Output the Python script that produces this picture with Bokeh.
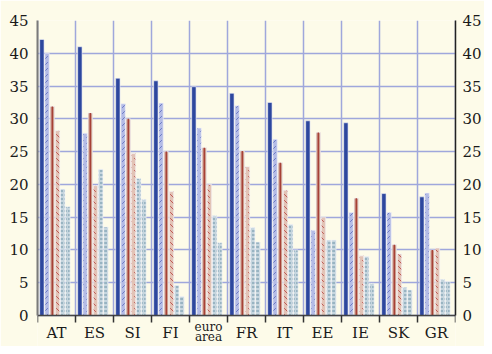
from bokeh.plotting import figure
from bokeh.models import Range1d, LinearAxis, FixedTicker, ColumnDataSource
from bokeh.embed import file_html
from bokeh.resources import INLINE

categories = ["AT", "ES", "SI", "FI", "euro area", "FR", "IT", "EE", "IE", "SK", "GR"]
series_1 = [42.1, 41.0, 36.2, 35.8, 34.9, 33.9, 32.5, 29.7, 29.4, 18.6, 18.1]
series_2 = [40.0, 27.8, 32.3, 32.4, 28.6, 32.0, 26.9, 13.0, 15.7, 15.7, 18.7]
series_3 = [31.9, 30.9, 30.0, 25.0, 25.6, 25.1, 23.3, 27.9, 17.9, 10.8, 10.0]
series_4 = [28.2, 19.8, 24.7, 18.9, 20.0, 22.7, 19.1, 15.0, 9.1, 9.4, 10.3]
series_5 = [19.3, 22.3, 20.9, 4.6, 15.2, 13.4, 13.9, 11.5, 9.0, 4.3, 5.5]
series_6 = [16.6, 13.5, 17.7, 2.9, 11.1, 11.2, 10.0, 11.5, 4.9, 3.9, 5.2]
y_ticks = [0, 5, 10, 15, 20, 25, 30, 35, 40, 45]

BG = "#FDFBE9"
GRID = "#9FA7DC"
FONT = "DejaVu Serif"
TXT = "#1a1a1a"

W, H = 484, 346
LEFT, RIGHT, TOP = 37, 24, 20
BELOW = 31  # label band (px) kept inside the frame under the zero line
ppu = (H - TOP - BELOW) / y_ticks[-1]

n = len(categories)
p = figure(width=W, height=H, output_backend="svg", toolbar_location=None,
           x_range=Range1d(0, n), y_range=Range1d(-BELOW / ppu, y_ticks[-1]),
           min_border_left=LEFT, min_border_right=RIGHT, min_border_top=TOP, min_border_bottom=0)
p.background_fill_color = BG
p.border_fill_color = BG
p.outline_line_color = None

# grids
p.xgrid.visible = False
p.ygrid.ticker = FixedTicker(ticks=y_ticks)
p.ygrid.grid_line_color = GRID
p.ygrid.grid_line_width = 1.5
bounds = list(range(n + 1))
p.segment(x0=bounds, y0=[y_ticks[0]] * len(bounds), x1=bounds, y1=[y_ticks[-1]] * len(bounds),
          line_color=GRID, line_width=1.5)

centres = [i + 0.5 for i in range(n)]
single = {x: c for x, c in zip(centres, categories) if " " not in c}
multi = {x: c.split(" ") for x, c in zip(centres, categories) if " " in c}

# main x axis at zero: tick marks at category borders, single-word labels
xa = p.xaxis[0]
xa.fixed_location = 0
xa.ticker = FixedTicker(ticks=list(single.keys()), minor_ticks=bounds)
xa.major_label_overrides = single
xa.major_tick_out = 0
xa.major_tick_in = 0
xa.minor_tick_out = 7
xa.minor_tick_in = 0
xa.minor_tick_line_color = "#333333"
xa.minor_tick_line_width = 1.5
xa.axis_line_color = "#444444"
xa.axis_line_width = 1.5
xa.major_label_text_font = FONT
xa.major_label_text_font_size = "15px"
xa.major_label_text_color = TXT
xa.major_label_standoff = 1

# wrapped labels: one label-only axis per line
for j, standoff in enumerate([-2, 8]):
    ax = LinearAxis(fixed_location=0,
                    ticker=FixedTicker(ticks=list(multi.keys())),
                    major_label_overrides={x: parts[j] for x, parts in multi.items()},
                    axis_line_color=None, major_tick_line_color=None, minor_tick_line_color=None,
                    major_label_text_font=FONT, major_label_text_font_size="12px",
                    major_label_text_color=TXT, major_label_standoff=standoff)
    p.add_layout(ax, "below")

# y axes
ya = p.yaxis[0]
ya.bounds = (y_ticks[0], y_ticks[-1])
ya.ticker = FixedTicker(ticks=y_ticks)
ya.major_tick_out = 0
ya.major_tick_in = 0
ya.minor_tick_line_color = None
ya.axis_line_color = "#7a7a7a"
ya.axis_line_width = 2
ya.major_label_text_font = FONT
ya.major_label_text_font_size = "15px"
ya.major_label_text_color = TXT
ya.major_label_standoff = 9

ra = LinearAxis(ticker=FixedTicker(ticks=y_ticks), bounds=(y_ticks[0], y_ticks[-1]))
ra.major_tick_out = 0
ra.major_tick_in = 0
ra.minor_tick_line_color = None
ra.axis_line_color = "#222222"
ra.axis_line_width = 1.5
ra.major_label_text_font = FONT
ra.major_label_text_font_size = "15px"
ra.major_label_text_color = TXT
ra.major_label_standoff = 7
p.add_layout(ra, "right")

# bars
pitch = 0.137
start = 0.115
bw = 0.115
series = [series_1, series_2, series_3, series_4, series_5, series_6]
styles = [
    dict(fill_color="#2D479E"),
    dict(fill_color="#B3BBE6", hatch_pattern="right_diagonal_dash", hatch_color="#6A78C4", hatch_scale=6, hatch_weight=1),
    dict(fill_color="#CB9C8B"),
    dict(fill_color="#E2C3B6", hatch_pattern="left_diagonal_dash", hatch_color="#BF5A55", hatch_scale=6, hatch_weight=1),
    dict(fill_color="#C5D5DE", hatch_pattern="horizontal_dash", hatch_color="#6B93A6", hatch_scale=4, hatch_weight=1),
    dict(fill_color="#C5D5DE", hatch_pattern="horizontal_dash", hatch_color="#6B93A6", hatch_scale=4, hatch_weight=1),
]
for k, (vals, st) in enumerate(zip(series, styles)):
    xs = [i + start + k * pitch for i in range(n)]
    src = ColumnDataSource(data=dict(x=xs, top=vals))
    p.vbar(x="x", top="top", width=bw, bottom=0, source=src,
           line_color="#F4F4FA", line_width=0.6, **st)
    if k == 2:
        p.vbar(x="x", top="top", width=0.032, bottom=0, source=src,
               fill_color="#A3342C", line_color=None)

open("out.html", "w").write(file_html(p, INLINE))
